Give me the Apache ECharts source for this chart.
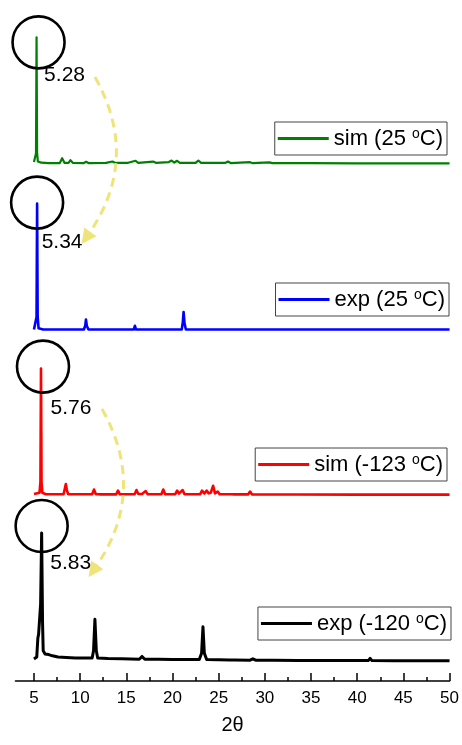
<!DOCTYPE html>
<html>
<head>
<meta charset="utf-8">
<script src="https://cdn.jsdelivr.net/npm/echarts@6/dist/echarts.min.js"></script>
<style>
  html, body { margin: 0; padding: 0; background: #fff; }
  #chart { width: 462px; height: 745px; }
</style>
</head>
<body>
<div id="chart"></div>
<script>
// 2θ range and tick marks
const xMin = 3;
const xMax = 50;
const majorTicks = [5, 10, 15, 20, 25, 30, 35, 40, 45, 50];
const minorTicks = [7.5, 12.5, 17.5, 22.5, 27.5, 32.5, 37.5, 42.5, 47.5];

// Patterns, top to bottom
const names = ['sim (25 ºC)', 'exp (25 ºC)', 'sim (-123 ºC)', 'exp (-120 ºC)'];
const colors = ['#008000', '#0000ff', '#ff0000', '#000000'];
// Baseline shift of each pattern in the stacked view
const offsets = [411, 279, 148, 16];
// First reflection (2θ) of each pattern
const firstPeak = [5.28, 5.34, 5.76, 5.83];

// Intensities, % of the strongest reflection: [2θ, I]
const simRT = [
  [5.00, 1.0], [5.15, 1.5], [5.22, 8], [5.28, 100], [5.34, 8], [5.42, 1.5], [5.8, 0.5],
  [6.6, 0.2], [7.8, 0.2], [8.05, 4], [8.3, 0.4], [8.75, 0.4], [8.95, 2.5], [9.2, 0.4],
  [10.4, 0.2], [10.65, 1.2], [10.9, 0.2], [12.8, 0.3], [13.5, 1.4], [13.8, 0.3], [15.2, 0.4],
  [16.0, 2], [16.3, 0.4], [17.9, 1.4], [18.2, 0.4], [19.6, 1], [19.9, 2.2], [20.2, 0.6],
  [20.5, 2], [20.8, 0.4], [22.5, 0.4], [22.8, 2.2], [23.1, 0.3], [25.7, 0.3], [26.0, 1.4],
  [26.3, 0.2], [28.4, 0.9], [28.7, 0.1], [30.5, 0.7], [30.8, 0.1], [35, 0.1], [40, 0], [50, 0]
];
const expRT = [
  [5.00, 0], [5.2, 1], [5.28, 10], [5.34, 100], [5.40, 10], [5.5, 1], [6.0, 0],
  [10.4, 0], [10.55, 3], [10.63, 8], [10.72, 3], [10.9, 0],
  [15.8, 0], [15.93, 3], [16.06, 0],
  [21.0, 0], [21.12, 6], [21.2, 14], [21.3, 5], [21.45, 0], [50, 0]
];
const simLT = [
  [5.0, 0.5], [5.6, 1.5], [5.7, 10], [5.76, 100], [5.82, 10], [5.9, 1.5], [6.3, 0.3],
  [8.2, 0.3], [8.35, 5], [8.45, 8.3], [8.55, 4], [8.7, 0.3], [11.3, 0.3], [11.5, 4],
  [11.7, 0.3], [11.9, 1], [12.1, 0.2], [13.9, 0.2], [14.1, 3.2], [14.3, 0.2], [15.9, 0.3],
  [16.1, 3.6], [16.3, 0.5], [16.5, 1.5], [16.7, 0.5], [17.1, 2.8], [17.3, 0.3], [18.8, 0.3],
  [19.0, 4], [19.2, 0.3], [20.3, 0.3], [20.5, 3.2], [20.7, 0.8], [21.1, 3.6], [21.3, 0.3],
  [23.0, 0.3], [23.2, 3.2], [23.45, 0.8], [23.7, 3.2], [23.9, 1], [24.15, 1.5], [24.4, 7],
  [24.6, 1], [24.9, 2.4], [25.1, 0.3], [26.4, 0.2], [26.5, 0.8], [26.7, 0.2], [28.2, 0.2],
  [28.4, 2.4], [28.6, 0.2], [30.8, 0.1], [30.9, 0.8], [31.1, 0.1], [32.9, 0.1], [33.0, 0.8],
  [33.2, 0.1], [40, 0], [50, 0]
];
const expLT = [
  [5.0, 1.5], [5.3, 3], [5.42, 18], [5.5, 21], [5.62, 20], [5.72, 45], [5.83, 101.5],
  [5.93, 30], [6.0, 8], [6.2, 5.5], [6.6, 5], [7.0, 4], [7.6, 3], [8.5, 2.6], [9.5, 2.3],
  [10.5, 2.2], [11.3, 2.2], [11.45, 8], [11.6, 33], [11.75, 8], [11.9, 2.2], [13, 1.8],
  [14.5, 1.6], [16.4, 1.3], [16.7, 3.5], [17.0, 1.3], [18.5, 1.2], [20, 1], [21.5, 1],
  [22.9, 1], [23.15, 6], [23.3, 27], [23.45, 6], [23.7, 1], [25, 0.8], [26.2, 0.7],
  [26.4, 1.5], [26.7, 0.6], [28.4, 0.5], [28.7, 1.6], [29.0, 0.5], [31, 0.4], [33.6, 0.3],
  [33.8, 1], [34.0, 0.3], [38, 0.2], [41.2, 0.2], [41.4, 2], [41.6, 0.2], [44, 0.1],
  [47, 0], [50, 0]
];
const patterns = [simRT, expRT, simLT, expLT];

// Peak-shift arrows between labels: [from, to] in [2θ, stacked intensity]
const shiftArrows = [
  [[11.6, 479.5], [10.63, 351.7]],
  [[12.36, 216], [11.38, 87.3]]
];

const font = '"Liberation Sans", Arial, Helvetica, sans-serif';
const circleShift = [[2, 5], [0, -1], [2, -2], [0, -7]];
const labelShift = [[28, 38], [25, 39], [30, 40], [29, 30]];
const legendPos = [
  { right: 15, top: 122 },
  { right: 13, top: 283 },
  { right: 15, top: 448 },
  { right: 11, top: 607 }
];

function peakTop(i) {
  let best = patterns[i][0];
  patterns[i].forEach(p => { if (p[1] > best[1]) best = p; });
  return [best[0], best[1] + offsets[i]];
}

const lineSeries = patterns.map((pts, i) => ({
  name: names[i],
  type: 'line',
  showSymbol: false,
  symbol: 'none',
  data: pts.map(p => [p[0], p[1] + offsets[i]]),
  lineStyle: { color: colors[i], width: i === 0 ? 2.2 : (i === 3 ? 3 : 2.6), join: 'round' },
  itemStyle: { color: colors[i] },
  z: 2
}));

const circleSeries = {
  type: 'scatter',
  silent: true,
  symbol: 'circle',
  symbolSize: 52,
  itemStyle: { color: 'rgba(0,0,0,0)', borderColor: '#000', borderWidth: 2.6, opacity: 1 },
  data: firstPeak.map((x, i) => ({ value: peakTop(i), symbolOffset: circleShift[i] })),
  z: 4
};

const labelSeries = {
  type: 'scatter',
  silent: true,
  symbolSize: 1,
  itemStyle: { color: 'rgba(0,0,0,0)', opacity: 1 },
  data: firstPeak.map((x, i) => ({
    value: peakTop(i),
    label: { offset: labelShift[i] }
  })),
  label: {
    show: true,
    position: 'inside',
    fontFamily: font,
    fontSize: 21,
    color: '#000',
    formatter: p => firstPeak[p.dataIndex].toFixed(2)
  },
  z: 5
};

const arrowSeries = {
  type: 'lines',
  coordinateSystem: 'cartesian2d',
  silent: true,
  symbol: ['none', 'triangle'],
  symbolSize: 15,
  lineStyle: { color: '#efe47a', width: 3, type: [9, 6], curveness: 0.32, opacity: 1 },
  data: shiftArrows.map(a => ({ coords: a })),
  z: 3
};

const legends = names.map((n, i) => Object.assign({
  data: [n],
  icon: 'rect',
  itemWidth: 51,
  itemHeight: 3,
  itemGap: 0,
  selectedMode: false,
  padding: [5, 4, 5, 3],
  borderColor: '#444',
  borderWidth: 1,
  formatter: name => {
    const parts = name.split('º');
    return '{t|' + parts[0] + '}{s|o}{t|' + parts[1] + '}';
  },
  textStyle: {
    fontFamily: font,
    color: '#000',
    rich: {
      t: { fontFamily: font, fontSize: 22, lineHeight: 22, color: '#000' },
      s: { fontFamily: font, fontSize: 14, lineHeight: 22, padding: [0, 0, 9, 0], color: '#000' }
    }
  }
}, legendPos[i]));

const chart = echarts.init(document.getElementById('chart'), null, { renderer: 'canvas' });
chart.setOption({
  animation: false,
  backgroundColor: '#fff',
  grid: { left: 15.5, right: 12, top: 26, bottom: 64 },
  legend: legends,
  xAxis: [
    {
      type: 'value',
      min: xMin,
      max: xMax,
      name: '2θ',
      nameLocation: 'middle',
      nameGap: 34,
      nameTextStyle: { fontFamily: font, fontSize: 20, color: '#000' },
      axisLine: { show: true, onZero: false, lineStyle: { color: '#000', width: 1.6 } },
      axisTick: { show: true, inside: true, length: 8, customValues: majorTicks, lineStyle: { color: '#000', width: 1.5 } },
      axisLabel: { show: true, customValues: majorTicks, margin: 9, fontFamily: font, fontSize: 17, color: '#000' },
      splitLine: { show: false }
    },
    {
      type: 'value',
      min: xMin,
      max: xMax,
      position: 'bottom',
      axisLine: { show: false, onZero: false },
      axisTick: { show: true, inside: true, length: 4, customValues: minorTicks, lineStyle: { color: '#000', width: 1.5 } },
      axisLabel: { show: false },
      splitLine: { show: false }
    }
  ],
  yAxis: { type: 'value', min: 0, max: 520, show: false },
  series: [...lineSeries, arrowSeries, circleSeries, labelSeries]
});
</script>
</body>
</html>
